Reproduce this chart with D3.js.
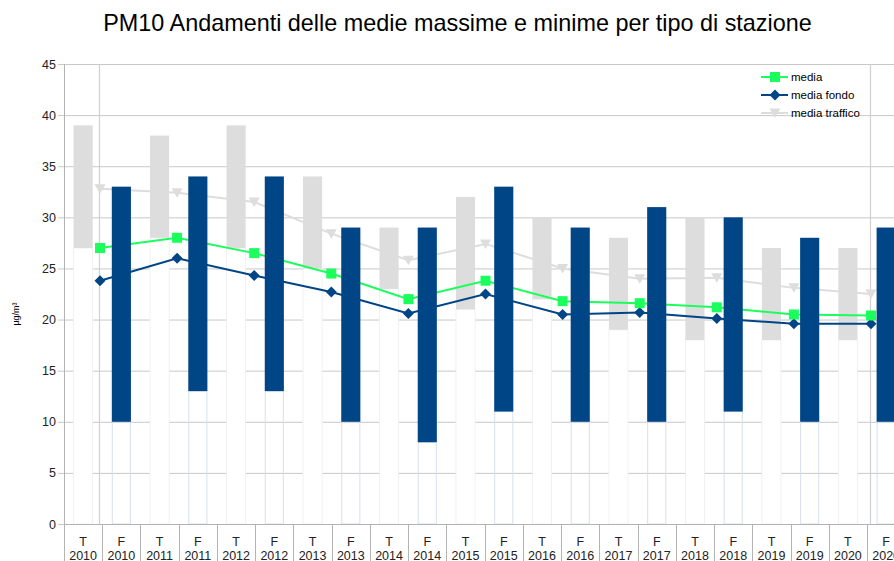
<!DOCTYPE html>
<html>
<head>
<meta charset="utf-8">
<script src="https://cdn.jsdelivr.net/npm/d3@7"></script>
<style>
  html, body { margin: 0; padding: 0; background: #fff; }
  svg { display: block; font-family: "Liberation Sans", Arial, sans-serif; }
</style>
</head>
<body>
<svg id="chart" width="894" height="561"></svg>
<script>
// ---- data ----
const years = [2010, 2011, 2012, 2013, 2014, 2015, 2016, 2017, 2018, 2019, 2020];
const stationTypes = ["T", "F"];
// traffic stations (T): min and max of the averages
const tMin = [27, 28, 27, 25, 23, 21, 22, 19, 18, 18, 18];
const tMax = [39, 38, 39, 34, 29, 32, 30, 28, 30, 27, 27];
// background stations (F): min and max of the averages
const fMin = [10, 13, 13, 10, 8, 11, 10, 10, 11, 10, 10];
const fMax = [33, 34, 34, 29, 29, 33, 29, 31, 30, 28, 29];
// lines
const media = [27.0, 28.0, 26.5, 24.5, 22.0, 23.8, 21.8, 21.6, 21.2, 20.5, 20.4];
const mediaFondo = [23.8, 26.0, 24.3, 22.7, 20.6, 22.5, 20.5, 20.7, 20.1, 19.6, 19.6];
const mediaTraffico = [32.8, 32.4, 31.5, 28.4, 25.8, 27.4, 25.0, 24.0, 24.1, 23.1, 22.5];
const yTicks = [0, 5, 10, 15, 20, 25, 30, 35, 40, 45];
const seriesNames = ["media", "media fondo", "media traffico"];
const chartTitle = "PM10 Andamenti delle medie massime e minime per tipo di stazione";
const yTitle = "µg/m³";

// ---- build ----
const bars = [];
years.forEach((yr, i) => {
  bars.push({ key: "T " + yr, type: stationTypes[0], year: yr, min: tMin[i], max: tMax[i] });
  bars.push({ key: "F " + yr, type: stationTypes[1], year: yr, min: fMin[i], max: fMax[i] });
});

const svg = d3.select("#chart");
const pLeft = 64, pTop = 64, pBottom = 524;
const pStep = 38.24;
const pRight = pLeft + pStep * bars.length;

const x = d3.scaleBand().domain(bars.map(d => d.key)).range([pLeft, pRight])
  .paddingInner(0.5).paddingOuter(0.25);
const x2 = d3.scalePoint().domain(years).range([100, 871]);
const y = d3.scaleLinear().domain([0, 45]).range([pBottom, pTop]);

const gridColor = "#c8c8c8";

// title
svg.append("text").attr("x", 457.5).attr("y", 31).attr("text-anchor", "middle")
  .attr("font-size", 23.4).attr("fill", "#000").text(chartTitle);

// horizontal gridlines
svg.append("g").selectAll("line").data(yTicks).join("line")
  .attr("x1", pLeft - 6).attr("x2", 894)
  .attr("y1", d => y(d) + 0.5).attr("y2", d => y(d) + 0.5)
  .attr("stroke", gridColor).attr("stroke-width", 1);

// y tick labels
svg.append("g").selectAll("text").data(yTicks).join("text")
  .attr("x", 56).attr("y", d => y(d) + 4.5).attr("text-anchor", "end")
  .attr("font-size", 12.5).attr("fill", "#222").text(d => d);

// y axis line
svg.append("line").attr("x1", pLeft + 0.5).attr("x2", pLeft + 0.5)
  .attr("y1", pTop).attr("y2", 561).attr("stroke", "#b3b3b3");

// y axis title
svg.append("text").attr("transform", `translate(19,${(pTop + pBottom) / 2 + 20}) rotate(-90)`)
  .attr("text-anchor", "middle").attr("font-size", 9).attr("fill", "#000").text(yTitle);

// secondary axis verticals
svg.append("g").selectAll("line").data([years[0], years[years.length - 1]]).join("line")
  .attr("x1", d => x2(d) - 0.5).attr("x2", d => x2(d) - 0.5)
  .attr("y1", pTop).attr("y2", pBottom)
  .attr("stroke", "#d0d0d0").attr("stroke-width", 1.2);

const tBars = bars.filter(d => d.type === "T");
const fBars = bars.filter(d => d.type === "F");

// T white bases (cover gridlines)
svg.append("g").selectAll("rect").data(tBars).join("rect")
  .attr("x", d => x(d.key)).attr("width", x.bandwidth())
  .attr("y", d => y(d.min)).attr("height", d => y(0) - y(d.min))
  .attr("fill", "#fff").attr("stroke", "#eeeeee").attr("stroke-width", 0.8);

// T gray ranges
svg.append("g").selectAll("rect").data(tBars).join("rect")
  .attr("x", d => x(d.key)).attr("width", x.bandwidth())
  .attr("y", d => y(d.max)).attr("height", d => y(d.min) - y(d.max))
  .attr("fill", "#dddddd");

// lines
const lineData = [
  { name: seriesNames[0], values: media, color: "#1aff5c", marker: "square" },
  { name: seriesNames[1], values: mediaFondo, color: "#004586", marker: "diamond" },
  { name: seriesNames[2], values: mediaTraffico, color: "#dddddd", marker: "triangle" }
];
const lineGen = d3.line().x(d => x2(d.year)).y(d => y(d.v));

function markerPath(type) {
  if (type === "square") return "M-5,-5H5V5H-5Z";
  if (type === "diamond") return "M0,-5.5L5.5,0L0,5.5L-5.5,0Z";
  return "M-5.5,-4.5H5.5L0,5Z";
}

const linesG = svg.append("g");
lineData.slice().reverse().forEach(s => {
  const pts = years.map((yr, i) => ({ year: yr, v: s.values[i] }));
  linesG.append("path").datum(pts).attr("d", lineGen)
    .attr("fill", "none").attr("stroke", s.color).attr("stroke-width", 2);
  linesG.append("g").selectAll("path").data(pts).join("path")
    .attr("transform", d => `translate(${x2(d.year)},${y(d.v)})`)
    .attr("d", markerPath(s.marker)).attr("fill", s.color);
});

// F white bases (transparent, light blue edges)
svg.append("g").selectAll("rect").data(fBars).join("rect")
  .attr("x", d => x(d.key) + 0.5).attr("width", x.bandwidth() - 1)
  .attr("y", d => y(d.min)).attr("height", d => y(0) - y(d.min))
  .attr("fill", "none").attr("stroke", "#d6e0ee").attr("stroke-width", 1);

// F blue ranges
svg.append("g").selectAll("rect").data(fBars).join("rect")
  .attr("x", d => x(d.key)).attr("width", x.bandwidth())
  .attr("y", d => y(d.max)).attr("height", d => y(d.min) - y(d.max))
  .attr("fill", "#004586");

// x axis baseline
svg.append("line").attr("x1", pLeft).attr("x2", 894)
  .attr("y1", pBottom + 0.5).attr("y2", pBottom + 0.5).attr("stroke", "#b3b3b3");

// x separators
svg.append("g").selectAll("line").data(bars).join("line")
  .attr("x1", d => Math.round(x(d.key) - (x.step() - x.bandwidth()) / 2) + 0.5)
  .attr("x2", d => Math.round(x(d.key) - (x.step() - x.bandwidth()) / 2) + 0.5)
  .attr("y1", pBottom).attr("y2", 561).attr("stroke", "#b3b3b3");

// x labels
const xl = svg.append("g").selectAll("g").data(bars).join("g")
  .attr("transform", d => `translate(${x(d.key) + x.bandwidth() / 2},0)`);
xl.append("text").attr("y", 546).attr("text-anchor", "middle")
  .attr("font-size", 12.5).attr("fill", "#222").text(d => d.type);
xl.append("text").attr("y", 559.5).attr("text-anchor", "middle")
  .attr("font-size", 12.5).attr("fill", "#222").text(d => d.year);

// legend
const lg = svg.append("g").selectAll("g").data(lineData).join("g")
  .attr("transform", (d, i) => `translate(761,${77 + i * 18})`);
lg.append("line").attr("x1", 0).attr("x2", 27).attr("y1", 0).attr("y2", 0)
  .attr("stroke", d => d.color).attr("stroke-width", 2);
lg.append("path").attr("transform", "translate(14,0)")
  .attr("d", d => markerPath(d.marker)).attr("fill", d => d.color);
lg.append("text").attr("x", 30).attr("y", 4).attr("font-size", 11.5)
  .attr("fill", "#000").text(d => d.name);
</script>
</body>
</html>
